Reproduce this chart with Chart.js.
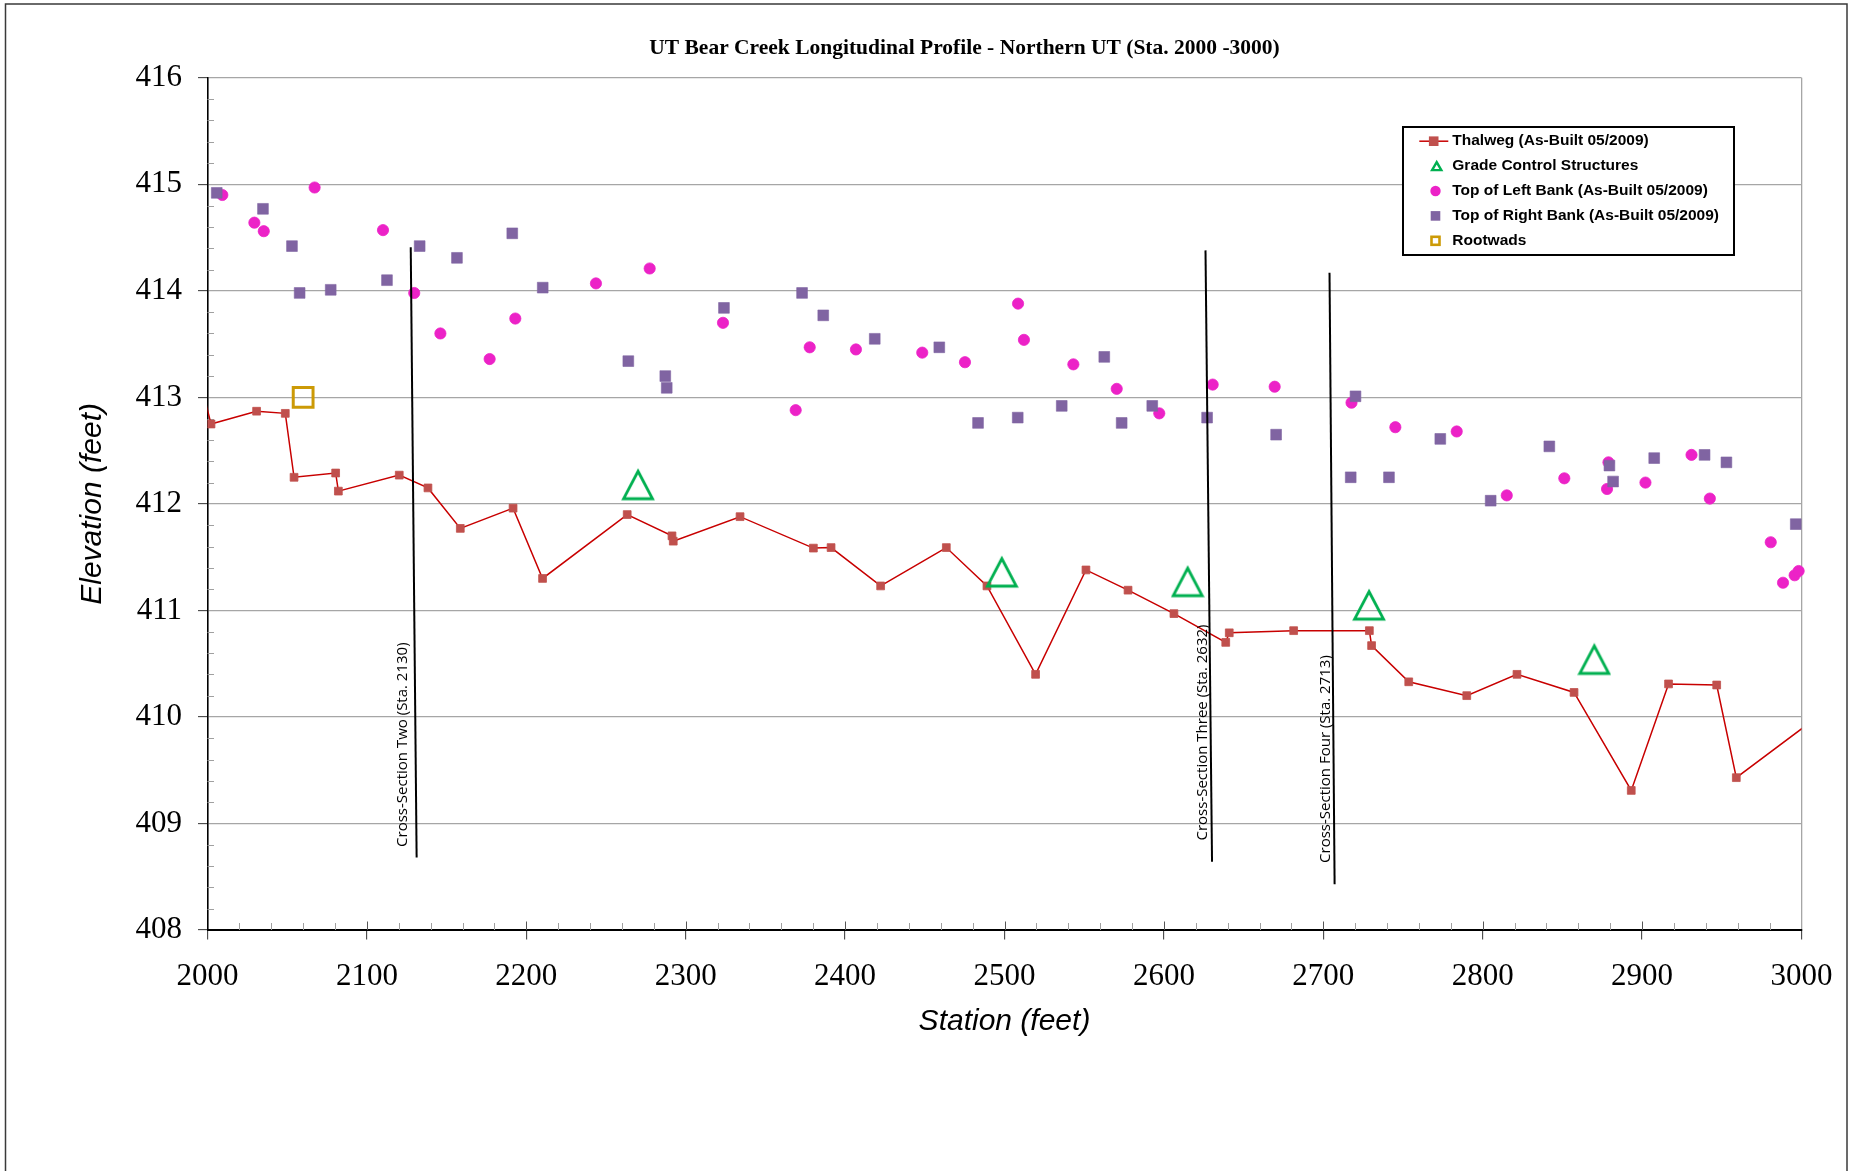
<!DOCTYPE html>
<html>
<head>
<meta charset="utf-8">
<title>UT Bear Creek Longitudinal Profile - Northern UT</title>
<script src="https://cdn.jsdelivr.net/npm/chart.js@4.4.1/dist/chart.umd.min.js"></script>
<style>
  html, body { margin: 0; padding: 0; background: #ffffff; overflow: hidden; }
  canvas { display: block; }
</style>
</head>
<body>
<canvas id="profile" width="1853" height="1171"></canvas>
<script>
// ---- Survey data (station and elevation in feet) ----

// Thalweg (As-Built 05/2009); first and last shots lie just outside the plotted reach
const thalwegStation = [1996, 2002.2, 2030.8, 2048.8, 2054.3, 2080.4, 2082.1, 2120.3, 2138.3, 2158.6,
  2191.7, 2210.2, 2263.3, 2291.4, 2292.2, 2334.1, 2380.1, 2391.2, 2422.3, 2463.5,
  2489.0, 2519.5, 2551.1, 2577.5, 2606.3, 2638.8, 2641.0, 2681.4, 2728.9, 2730.3,
  2753.6, 2790.0, 2821.5, 2857.3, 2893.2, 2916.6, 2946.8, 2959.1, 3010];
const thalwegElev = [413.12, 412.75, 412.87, 412.85, 412.25, 412.29, 412.12, 412.27, 412.15, 411.77,
  411.96, 411.30, 411.90, 411.70, 411.65, 411.88, 411.585, 411.59, 411.23, 411.59,
  411.23, 410.40, 411.38, 411.19, 410.97, 410.70, 410.79, 410.81, 410.81, 410.67,
  410.33, 410.20, 410.40, 410.23, 409.31, 410.31, 410.30, 409.43, 410.00];

// Grade control structures
const gcsStation = [2270.1, 2498.3, 2614.9, 2728.7, 2870.0];
const gcsElev = [412.18, 411.36, 411.27, 411.05, 410.54];

// Top of left bank (As-Built 05/2009)
const leftBankStation = [2009.3, 2029.4, 2035.3, 2067.2, 2110.1, 2129.7, 2146.1, 2177.0, 2193.1, 2243.7,
  2277.4, 2323.4, 2369.0, 2377.8, 2406.8, 2448.4, 2475.2, 2508.5, 2512.2, 2543.2,
  2570.4, 2597.1, 2630.6, 2669.5, 2717.7, 2745.2, 2783.7, 2815.1, 2851.2, 2878.0,
  2878.9, 2902.1, 2931.0, 2942.5, 2980.7, 2988.4, 2995.7, 2998.2];
const leftBankElev = [414.90, 414.64, 414.56, 414.97, 414.57, 413.98, 413.60, 413.36, 413.74, 414.07,
  414.21, 413.70, 412.88, 413.47, 413.45, 413.42, 413.33, 413.88, 413.54, 413.31,
  413.08, 412.85, 413.12, 413.10, 412.95, 412.72, 412.68, 412.08, 412.24, 412.14,
  412.39, 412.20, 412.46, 412.05, 411.64, 411.26, 411.33, 411.37];

// Top of right bank (As-Built 05/2009)
const rightBankStation = [2005.8, 2034.8, 2053.0, 2057.8, 2077.3, 2112.6, 2133.1, 2156.5, 2191.2, 2210.3,
  2264.0, 2287.2, 2288.1, 2324.0, 2373.0, 2386.3, 2418.6, 2459.1, 2483.4, 2508.3,
  2535.9, 2562.6, 2573.5, 2592.7, 2627.1, 2670.4, 2717.2, 2720.2, 2741.2, 2773.4,
  2805.0, 2841.8, 2879.5, 2881.8, 2907.6, 2939.2, 2952.9, 2996.4];
const rightBankElev = [414.92, 414.77, 414.42, 413.98, 414.01, 414.10, 414.42, 414.31, 414.54, 414.03,
  413.34, 413.20, 413.09, 413.84, 413.98, 413.77, 413.55, 413.47, 412.76, 412.81,
  412.92, 413.38, 412.76, 412.92, 412.81, 412.65, 412.25, 413.01, 412.25, 412.61,
  412.03, 412.54, 412.36, 412.21, 412.43, 412.46, 412.39, 411.81];

// Rootwads
const rootwadStation = [2060];
const rootwadElev = [413.0];

// Cross-section reference lines: name, top end and bottom end (station, elevation)
const crossSectionNames = ['Cross-Section Two (Sta. 2130)', 'Cross-Section Three (Sta. 2632)', 'Cross-Section Four (Sta. 2713)'];
const crossSectionTopStation = [2127.5, 2626.1, 2703.9];
const crossSectionTopElev = [414.41, 414.38, 414.17];
const crossSectionBottomStation = [2131.2, 2630.2, 2707.1];
const crossSectionBottomElev = [408.68, 408.64, 408.43];
// where each rotated name starts (station, elevation of the text baseline start)
const crossSectionLabelStation = [2125.2, 2627.1, 2704.5];
const crossSectionLabelElev = [408.78, 408.84, 408.63];

// Axis ticks
const stationTicks = [2000, 2100, 2200, 2300, 2400, 2500, 2600, 2700, 2800, 2900, 3000];
const elevationTicks = [408, 409, 410, 411, 412, 413, 414, 415, 416];
const stationMinorStep = 20;
const elevationMinorStep = 0.2;

const chartTitle = 'UT Bear Creek Longitudinal Profile - Northern UT (Sta. 2000 -3000)';

// ---- helpers ----
const pts = (xs, ys) => xs.map((x, i) => ({ x: x, y: ys[i] }));

const SERIF = "'Liberation Serif', 'Times New Roman', serif";
const SANS = "'Liberation Sans', Arial, sans-serif";

const COLORS = {
  thalwegLine: '#c80000',
  thalwegMarker: '#c0504d',
  gcs: '#00b050',
  leftBank: '#ec22c7',
  rightBank: '#8064a2',
  rootwad: '#cc9a06',
  grid: '#a6a6a6',
  axis: '#000000'
};

// Hollow triangle used for the grade control structure markers
function triangleMarker(w, h, lw, color) {
  const c = document.createElement('canvas');
  c.width = w; c.height = h;
  const g = c.getContext('2d');
  g.strokeStyle = color;
  g.lineWidth = lw;
  g.lineJoin = 'miter';
  g.beginPath();
  g.moveTo(w / 2, 3.5);
  g.lineTo(w - 2.5, h - 3);
  g.lineTo(2.5, h - 3);
  g.closePath();
  g.stroke();
  return c;
}
const gcsMarker = triangleMarker(34, 34, 2.8, COLORS.gcs);

// ---- datasets ----
const datasets = [
  {
    label: 'Thalweg (As-Built 05/2009)',
    data: pts(thalwegStation, thalwegElev),
    showLine: true,
    borderColor: COLORS.thalwegLine,
    borderWidth: 1.5,
    pointStyle: 'rect',
    pointRadius: 5.5,
    pointBackgroundColor: COLORS.thalwegMarker,
    pointBorderColor: COLORS.thalwegMarker,
    pointBorderWidth: 0.8,
    clip: 0,
    order: 5,
    legendKind: 'thalweg'
  },
  {
    label: 'Grade Control Structures',
    data: pts(gcsStation, gcsElev),
    showLine: false,
    pointStyle: gcsMarker,
    pointRadius: 16,
    clip: 20,
    order: 4,
    legendKind: 'triangle'
  },
  {
    label: 'Top of Left Bank (As-Built 05/2009)',
    data: pts(leftBankStation, leftBankElev),
    showLine: false,
    pointStyle: 'circle',
    pointRadius: 5.6,
    pointBackgroundColor: COLORS.leftBank,
    pointBorderColor: COLORS.leftBank,
    pointBorderWidth: 0.8,
    clip: 10,
    order: 3,
    legendKind: 'circle'
  },
  {
    label: 'Top of Right Bank (As-Built 05/2009)',
    data: pts(rightBankStation, rightBankElev),
    showLine: false,
    pointStyle: 'rect',
    pointRadius: 7.6,
    pointBackgroundColor: COLORS.rightBank,
    pointBorderColor: COLORS.rightBank,
    pointBorderWidth: 0.6,
    clip: 10,
    order: 2,
    legendKind: 'square'
  },
  {
    label: 'Rootwads',
    data: pts(rootwadStation, rootwadElev),
    showLine: false,
    pointStyle: 'rect',
    pointRadius: 14,
    pointBackgroundColor: 'rgba(255,255,255,0)',
    pointBorderColor: COLORS.rootwad,
    pointBorderWidth: 3,
    clip: 20,
    order: 1,
    legendKind: 'hollowSquare'
  }
];

crossSectionNames.forEach((name, i) => {
  datasets.push({
    label: name,
    data: [
      { x: crossSectionTopStation[i], y: crossSectionTopElev[i] },
      { x: crossSectionBottomStation[i], y: crossSectionBottomElev[i] }
    ],
    showLine: true,
    borderColor: '#000000',
    borderWidth: 2,
    pointRadius: 0,
    order: 0,
    crossSectionIndex: i
  });
});

// ---- plugins ----
const backgroundAndFrame = {
  id: 'backgroundAndFrame',
  beforeDraw(chart) {
    const ctx = chart.ctx;
    ctx.save();
    ctx.fillStyle = '#ffffff';
    ctx.fillRect(0, 0, chart.width, chart.height);
    ctx.strokeStyle = '#3a3a3a';
    ctx.lineWidth = 1.5;
    ctx.strokeRect(5.5, 4, chart.width - 11.5, chart.height + 40);
    ctx.restore();
  }
};

const minorTicks = {
  id: 'minorTicks',
  beforeDatasetsDraw(chart) {
    const { ctx, chartArea: a, scales: { x, y } } = chart;
    ctx.save();
    ctx.lineWidth = 1;
    // minor elevation ticks, inside the plot
    ctx.strokeStyle = '#a0a0a0';
    const yMin = elevationTicks[0], yMax = elevationTicks[elevationTicks.length - 1];
    const nY = Math.round((yMax - yMin) / elevationMinorStep);
    for (let k = 1; k < nY; k++) {
      if (k % 5 === 0) continue;
      const py = Math.round(y.getPixelForValue(yMin + k * elevationMinorStep)) + 0.5;
      ctx.beginPath();
      ctx.moveTo(a.left, py);
      ctx.lineTo(a.left + 6.5, py);
      ctx.stroke();
    }
    // minor station ticks, inside the plot
    const xMin = stationTicks[0], xMax = stationTicks[stationTicks.length - 1];
    const nX = Math.round((xMax - xMin) / stationMinorStep);
    for (let k = 1; k < nX; k++) {
      const px = Math.round(x.getPixelForValue(xMin + k * stationMinorStep)) + 0.5;
      const major = k % 5 === 0;
      ctx.strokeStyle = major ? '#555555' : '#a0a0a0';
      ctx.beginPath();
      ctx.moveTo(px, a.bottom);
      ctx.lineTo(px, a.bottom - (major ? 8.5 : 7));
      ctx.stroke();
    }
    ctx.restore();
  }
};

const annotations = {
  id: 'annotations',
  afterDatasetsDraw(chart) {
    const { ctx, scales: { x, y } } = chart;
    ctx.save();
    ctx.fillStyle = '#000000';
    ctx.font = "15px 'Open Sans', 'DejaVu Sans', sans-serif";
    ctx.textAlign = 'left';
    ctx.textBaseline = 'alphabetic';
    crossSectionNames.forEach((name, i) => {
      const px = x.getPixelForValue(crossSectionLabelStation[i]);
      const py = y.getPixelForValue(crossSectionLabelElev[i]);
      ctx.save();
      ctx.translate(px, py);
      ctx.rotate(-Math.PI / 2);
      ctx.fillText(name, 0, 0);
      ctx.restore();
    });
    ctx.restore();
  },
  afterDraw(chart) {
    const ctx = chart.ctx;
    // chart title
    ctx.save();
    ctx.fillStyle = '#000000';
    ctx.font = 'bold 21.5px ' + SERIF;
    ctx.textAlign = 'center';
    ctx.textBaseline = 'alphabetic';
    ctx.fillText(chartTitle, 964.5, 54);

    // legend box
    const box = { left: 1403, top: 127, right: 1734, bottom: 255 };
    ctx.fillStyle = '#ffffff';
    ctx.fillRect(box.left, box.top, box.right - box.left, box.bottom - box.top);
    ctx.strokeStyle = '#000000';
    ctx.lineWidth = 2;
    ctx.strokeRect(box.left, box.top, box.right - box.left, box.bottom - box.top);

    const entries = chart.data.datasets.filter(d => d.legendKind);
    const rowStart = 141.2, rowGap = 24.9, mx = 1435.5, tx = 1452.3;
    ctx.font = 'bold 15.5px ' + SANS;
    ctx.textAlign = 'left';
    ctx.textBaseline = 'middle';
    entries.forEach((d, i) => {
      const cy = rowStart + i * rowGap;
      ctx.save();
      switch (d.legendKind) {
        case 'thalweg':
          ctx.strokeStyle = COLORS.thalwegLine;
          ctx.lineWidth = 1.5;
          ctx.beginPath();
          ctx.moveTo(1419.3, cy); ctx.lineTo(1448.3, cy);
          ctx.stroke();
          ctx.fillStyle = COLORS.thalwegMarker;
          ctx.fillRect(1433.7 - 4.8, cy - 4.8, 9.6, 9.6);
          break;
        case 'triangle':
          ctx.strokeStyle = COLORS.gcs;
          ctx.lineWidth = 2.4;
          ctx.beginPath();
          ctx.moveTo(mx + 1.2, cy - 4);
          ctx.lineTo(mx + 5.8, cy + 4);
          ctx.lineTo(mx - 3.4, cy + 4);
          ctx.closePath();
          ctx.stroke();
          break;
        case 'circle':
          ctx.fillStyle = COLORS.leftBank;
          ctx.beginPath();
          ctx.arc(mx, cy, 5.2, 0, Math.PI * 2);
          ctx.fill();
          break;
        case 'square':
          ctx.fillStyle = COLORS.rightBank;
          ctx.fillRect(mx - 4.8, cy - 4.8, 9.6, 9.6);
          break;
        case 'hollowSquare':
          ctx.strokeStyle = COLORS.rootwad;
          ctx.lineWidth = 2.6;
          ctx.strokeRect(mx - 4, cy - 4, 8, 8);
          break;
      }
      ctx.restore();
      ctx.fillStyle = '#000000';
      ctx.fillText(d.label, tx, cy);
    });
    ctx.restore();
  }
};

// ---- chart ----
new Chart(document.getElementById('profile'), {
  type: 'scatter',
  data: { datasets: datasets },
  options: {
    responsive: false,
    devicePixelRatio: 1,
    animation: false,
    events: [],
    layout: { padding: { left: 74.4, right: 51.5, top: 77.8, bottom: 131.6 } },
    plugins: {
      legend: { display: false },
      title: { display: false },
      tooltip: { enabled: false }
    },
    scales: {
      x: {
        type: 'linear',
        min: stationTicks[0],
        max: stationTicks[stationTicks.length - 1],
        afterBuildTicks: s => { s.ticks = stationTicks.map(v => ({ value: v })); },
        afterFit: s => { s.height = 109.4; },
        ticks: {
          autoSkip: false,
          maxRotation: 0,
          padding: 19,
          color: '#000000',
          font: { family: SERIF, size: 31 },
          callback: v => String(v)
        },
        grid: {
          color: c => (c.tick && c.tick.value === stationTicks[stationTicks.length - 1]) ? COLORS.grid : 'rgba(0,0,0,0)',
          lineWidth: 1.3,
          drawTicks: true,
          tickLength: 9.5,
          tickColor: '#333333',
          tickWidth: 1
        },
        border: { display: true, color: COLORS.axis, width: 2 },
        title: {
          display: true,
          text: 'Station (feet)',
          color: '#000000',
          font: { family: SANS, size: 30, style: 'italic' },
          padding: { top: 0, bottom: 0 }
        }
      },
      y: {
        type: 'linear',
        min: elevationTicks[0],
        max: elevationTicks[elevationTicks.length - 1],
        afterBuildTicks: s => { s.ticks = elevationTicks.map(v => ({ value: v })); },
        afterFit: s => { s.width = 133.1; },
        ticks: {
          padding: 16,
          color: '#000000',
          font: { family: SERIF, size: 31 },
          callback: v => String(v)
        },
        grid: {
          color: COLORS.grid,
          lineWidth: 1.3,
          drawTicks: true,
          tickLength: 9.5,
          tickColor: '#333333',
          tickWidth: 1
        },
        border: { display: true, color: COLORS.axis, width: 1.6 },
        title: {
          display: true,
          text: 'Elevation (feet)',
          color: '#000000',
          font: { family: SANS, size: 30, style: 'italic' },
          padding: { top: 0, bottom: 0 }
        }
      }
    }
  },
  plugins: [backgroundAndFrame, minorTicks, annotations]
});
</script>
</body>
</html>
